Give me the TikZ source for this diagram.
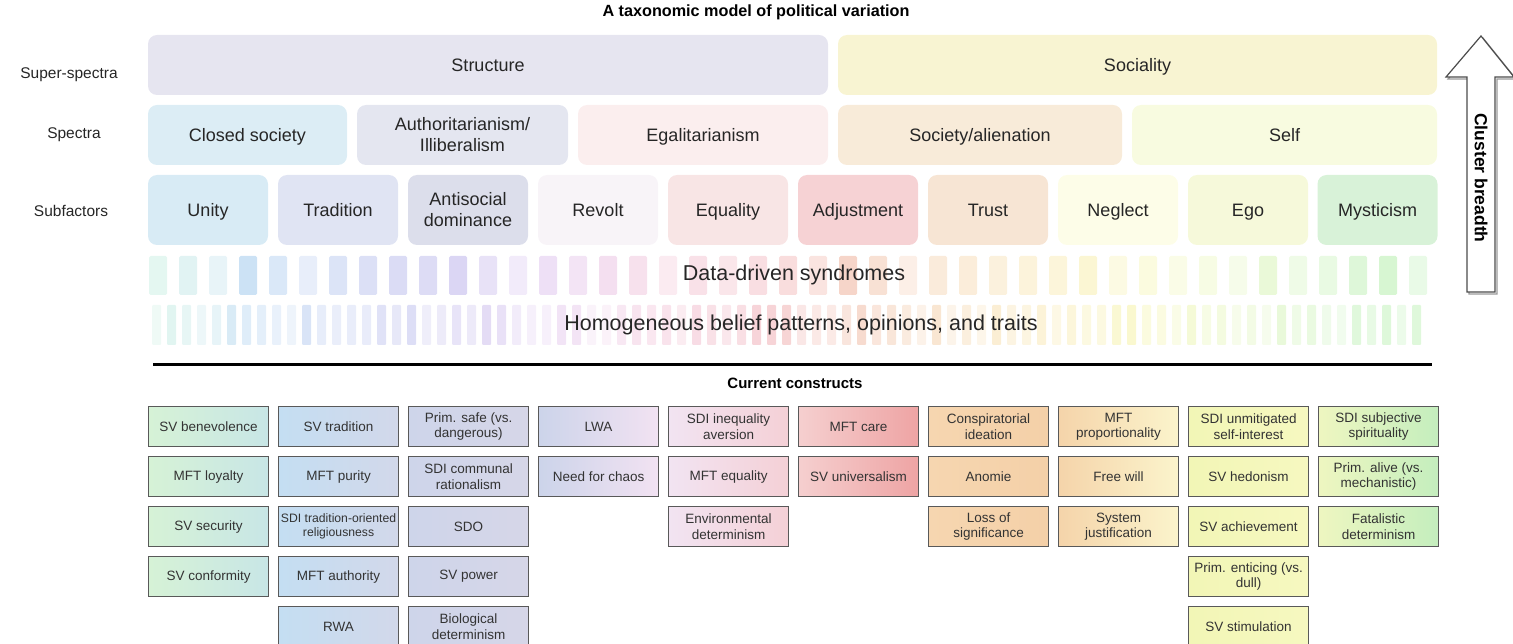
\documentclass[tikz,border=0pt]{standalone}
\usepackage{fontspec}
\setmainfont{Liberation Sans}
\definecolor{A0}{HTML}{BFEEDB}
\definecolor{A1}{HTML}{B8D6F2}
\definecolor{A2}{HTML}{C8D2F2}
\definecolor{A3}{HTML}{C8C2EE}
\definecolor{A4}{HTML}{E6D0F2}
\definecolor{A5}{HTML}{F4CDE0}
\definecolor{A6}{HTML}{F2B8C2}
\definecolor{A7}{HTML}{F2C2B0}
\definecolor{A8}{HTML}{F6D8B4}
\definecolor{A9}{HTML}{F9EAB4}
\definecolor{A10}{HTML}{F6F6B0}
\definecolor{A11}{HTML}{E2F6C0}
\definecolor{A12}{HTML}{C8F2C0}
\definecolor{A13}{HTML}{C2F2BC}
\definecolor{cStruct}{HTML}{E6E5F0}
\definecolor{cSocial}{HTML}{F8F4D2}
\definecolor{cClosed}{HTML}{DCEDF5}
\definecolor{cAuth}{HTML}{E4E6F0}
\definecolor{cEgal}{HTML}{FBEEEE}
\definecolor{cAlien}{HTML}{F8EBD9}
\definecolor{cSelf}{HTML}{F8FBE0}
\definecolor{cUnity}{HTML}{D8EBF5}
\definecolor{cTrad}{HTML}{E0E4F3}
\definecolor{cAnti}{HTML}{DCDEEB}
\definecolor{cRevolt}{HTML}{F8F4F8}
\definecolor{cEqual}{HTML}{F8E5E5}
\definecolor{cAdjust}{HTML}{F6D2D4}
\definecolor{cTrust}{HTML}{F7E5D4}
\definecolor{cNeglect}{HTML}{FDFDE8}
\definecolor{cEgo}{HTML}{F6F9DA}
\definecolor{cMyst}{HTML}{D8F2D8}
\definecolor{k1l}{HTML}{D6F2D6}\definecolor{k1r}{HTML}{C8E6E6}
\definecolor{k2l}{HTML}{C4DEF2}\definecolor{k2r}{HTML}{D2D8EA}
\definecolor{k3l}{HTML}{CED5EA}\definecolor{k3r}{HTML}{D6D6E8}
\definecolor{k4l}{HTML}{CCD4EA}\definecolor{k4r}{HTML}{F2E2F2}
\definecolor{k5l}{HTML}{F2E4F2}\definecolor{k5r}{HTML}{F4D0D6}
\definecolor{k6l}{HTML}{F5CFCF}\definecolor{k6r}{HTML}{EEA4A4}
\definecolor{k7l}{HTML}{F6D6B0}\definecolor{k7r}{HTML}{F4D0A8}
\definecolor{k8l}{HTML}{F5D4AA}\definecolor{k8r}{HTML}{FBF4CC}
\definecolor{k9l}{HTML}{F2F6B6}\definecolor{k9r}{HTML}{F6F8C0}
\definecolor{k10l}{HTML}{EEF6C0}\definecolor{k10r}{HTML}{C4EEBE}
\tikzset{
  rowlbl/.style={font=\fontsize{15.5}{18}\selectfont, text=black!85},
  bigbox/.style={rounded corners=9pt, inner sep=0pt, text=black!85, font=\fontsize{18}{21}\selectfont, align=center},
  oneline/.style={text height=15pt, text depth=2pt},
  subbox/.style={bigbox, minimum width=120pt, minimum height=70pt},
  cbox/.style={draw=black!65, line width=1.1pt, minimum width=120pt, minimum height=40pt, inner sep=1pt, align=center, font=\fontsize{13.5}{15.5}\selectfont, text=black!80, anchor=north west},
  bandtxt/.style={font=\fontsize{21.5}{24}\selectfont, text=black!85},
}
\newcommand{\cb}[4]{\node[cbox, left color=k#1l, right color=k#1r] (c#1r#2) at ({148+130*(#1-1)},{406+50*(#2-1)}) {#4};}
\begin{document}
\begin{tikzpicture}[x=1pt,y=-1pt]
\path[use as bounding box] (0,0) rectangle (1513,644);
\clip (0,0) rectangle (1513,644);
\node[font=\bfseries\fontsize{16.2}{18}\selectfont] (title) at (756,12) {A taxonomic model of political variation};
% row labels
\node[rowlbl] (lsuper) at (69,75) {Super-spectra};
\node[rowlbl] (lspec) at (74,135) {Spectra};
\node[rowlbl] (lsub) at (71,211) {Subfactors};
% super-spectra
\node[bigbox, oneline, fill=cStruct, minimum width=680pt, minimum height=60pt] (structure) at (488,65) {Structure};
\node[bigbox, oneline, fill=cSocial, minimum width=599pt, minimum height=60pt] (sociality) at (1137.5,65) {Sociality};
% spectra
\node[bigbox, oneline, fill=cClosed, minimum width=199pt, minimum height=60pt] (closed) at (247.5,135) {Closed society};
\node[bigbox, fill=cAuth, minimum width=211pt, minimum height=60pt] (auth) at (462.5,135) {Authoritarianism/\\Illiberalism};
\node[bigbox, oneline, fill=cEgal, minimum width=250pt, minimum height=60pt] (egal) at (703,135) {Egalitarianism};
\node[bigbox, oneline, fill=cAlien, minimum width=284pt, minimum height=60pt] (alien) at (980,135) {Society/alienation};
\node[bigbox, oneline, fill=cSelf, minimum width=305pt, minimum height=60pt] (self) at (1284.5,135) {Self};
% subfactors
\node[subbox, oneline, fill=cUnity] (unity) at (208,210) {Unity};
\node[subbox, oneline, fill=cTrad] (tradition) at (338,210) {Tradition};
\node[subbox, fill=cAnti] (antisocial) at (468,210) {Antisocial\\dominance};
\node[subbox, oneline, fill=cRevolt] (revolt) at (598,210) {Revolt};
\node[subbox, oneline, fill=cEqual] (equality) at (728,210) {Equality};
\node[subbox, oneline, fill=cAdjust] (adjust) at (858,210) {Adjustment};
\node[subbox, oneline, fill=cTrust] (trust) at (988,210) {Trust};
\node[subbox, oneline, fill=cNeglect] (neglect) at (1118,210) {Neglect};
\node[subbox, oneline, fill=cEgo] (ego) at (1248,210) {Ego};
\node[subbox, oneline, fill=cMyst] (myst) at (1377.5,210) {Mysticism};
% bars
\pgfmathsetseed{42}
\foreach \k in {0,...,42}{
  \pgfmathsetmacro\xx{149+30*\k}
  \pgfmathtruncatemacro\ii{(\xx+9-150)/100}
  \pgfmathtruncatemacro\jj{\ii+1}
  \pgfmathtruncatemacro\pp{100-((\xx+9-150)-100*\ii)}
  \pgfmathtruncatemacro\rr{32+42*rnd}
  \colorlet{bcol}{A\ii!\pp!A\jj}
  \fill[bcol!\rr!white, rounded corners=1.5pt] (\xx,256) rectangle ++(18,39);
}
\foreach \k in {0,...,84}{
  \pgfmathsetmacro\xx{152+15*\k}
  \pgfmathtruncatemacro\ii{(\xx+4.5-150)/100}
  \pgfmathtruncatemacro\jj{\ii+1}
  \pgfmathtruncatemacro\pp{100-((\xx+4.5-150)-100*\ii)}
  \pgfmathtruncatemacro\rr{25+38*rnd}
  \colorlet{bcol}{A\ii!\pp!A\jj}
  \fill[bcol!\rr!white, rounded corners=1pt] (\xx,305) rectangle ++(9,40);
}
\node[bandtxt] (syn) at (794,275) {Data-driven syndromes};
\node[bandtxt] (hom) at (801,325) {Homogeneous belief patterns, opinions, and traits};
% arrow
\draw[black!40, line width=1.2pt, line join=miter] (1469,294) -- (1469,79) -- (1448,79) -- (1483,38) -- (1516,79) -- (1497,79) -- (1497,294) -- cycle;
\draw[black!70, line width=1.2pt, fill=white, line join=miter] (1467,292) -- (1467,77) -- (1446,77) -- (1481,36) -- (1514,77) -- (1495,77) -- (1495,292) -- cycle;
\node[rotate=-90, font=\bfseries\fontsize{17.5}{19}\selectfont] (breadth) at (1481,178) {Cluster breadth};
% separator
\coordinate (sepL) at (153,364);
\coordinate (sepR) at (1432,364);
\draw[line width=3pt] (sepL) -- (sepR);
\node[font=\bfseries\fontsize{15}{17}\selectfont] (cc) at (795,383) {Current constructs};
% constructs
\cb{1}{1}{}{SV benevolence}
\cb{1}{2}{}{MFT loyalty}
\cb{1}{3}{}{SV security}
\cb{1}{4}{}{SV conformity}
\cb{2}{1}{}{SV tradition}
\cb{2}{2}{}{MFT purity}
\node[cbox, left color=k2l, right color=k2r, font=\fontsize{12.2}{14.5}\selectfont, inner sep=0pt] (c2r3) at (278,506) {SDI tradition-oriented\\religiousness};
\cb{2}{4}{}{MFT authority}
\cb{2}{5}{}{RWA}
\cb{3}{1}{}{Prim. safe (vs.\\dangerous)}
\cb{3}{2}{}{SDI communal\\rationalism}
\cb{3}{3}{}{SDO}
\cb{3}{4}{}{SV power}
\cb{3}{5}{}{Biological\\determinism}
\cb{4}{1}{}{LWA}
\cb{4}{2}{}{Need for chaos}
\cb{5}{1}{}{SDI inequality\\aversion}
\cb{5}{2}{}{MFT equality}
\cb{5}{3}{}{Environmental\\determinism}
\cb{6}{1}{}{MFT care}
\cb{6}{2}{}{SV universalism}
\cb{7}{1}{}{Conspiratorial\\ideation}
\cb{7}{2}{}{Anomie}
\cb{7}{3}{}{Loss of\\significance}
\cb{8}{1}{}{MFT\\proportionality}
\cb{8}{2}{}{Free will}
\cb{8}{3}{}{System\\justification}
\cb{9}{1}{}{SDI unmitigated\\self-interest}
\cb{9}{2}{}{SV hedonism}
\cb{9}{3}{}{SV achievement}
\cb{9}{4}{}{Prim. enticing (vs.\\dull)}
\cb{9}{5}{}{SV stimulation}
\cb{10}{1}{}{SDI subjective\\spirituality}
\cb{10}{2}{}{Prim. alive (vs.\\mechanistic)}
\cb{10}{3}{}{Fatalistic\\determinism}
\end{tikzpicture}
\end{document}
